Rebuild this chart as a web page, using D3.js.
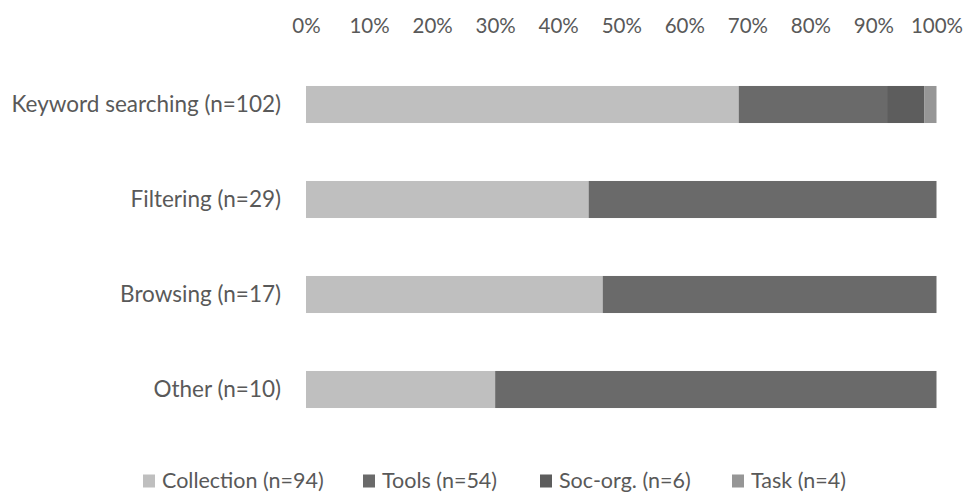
<!DOCTYPE html>
<html><head><meta charset="utf-8">
<script src="https://cdn.jsdelivr.net/npm/d3@7"></script>
<style>
html,body{margin:0;padding:0;background:#fff;}
svg text{font-family:"Lato","Open Sans",sans-serif;fill:#595959;}
</style></head>
<body>
<svg id="chart" width="967" height="493"></svg>
<script>
const categories = ["Keyword searching (n=102)", "Filtering (n=29)", "Browsing (n=17)", "Other (n=10)"];
const collection = [70, 13, 8, 3];
const tools = [24, 16, 9, 7];
const socOrg = [6, 0, 0, 0];
const task = [2, 0, 0, 0];
const seriesKeys = ["Collection", "Tools", "Soc-org.", "Task"];
const legendLabels = ["Collection (n=94)", "Tools (n=54)", "Soc-org. (n=6)", "Task (n=4)"];
const tickValues = [0, 0.1, 0.2, 0.3, 0.4, 0.5, 0.6, 0.7, 0.8, 0.9, 1];

const colors = ["#bfbfbf", "#6a6a6a", "#5d5d5d", "#969696"];
const seriesArrays = [collection, tools, socOrg, task];

const rows = categories.map((c, i) => {
  const r = {category: c};
  seriesKeys.forEach((k, j) => r[k] = seriesArrays[j][i]);
  return r;
});

const stack = d3.stack().keys(seriesKeys).offset(d3.stackOffsetExpand);
const stacked = stack(rows);

const svg = d3.select("#chart");
const x = d3.scaleLinear().domain([0, 1]).range([306, 936.5]);
const y = d3.scaleBand().domain(categories).range([57, 437]).paddingInner(0.61).paddingOuter(0.305);
const color = d3.scaleOrdinal().domain(seriesKeys).range(colors);

// bars
svg.append("g").selectAll("g").data(stacked).join("g")
  .attr("fill", d => color(d.key))
  .selectAll("rect").data(d => d).join("rect")
  .attr("x", d => x(d[0]))
  .attr("y", d => y(d.data.category))
  .attr("width", d => Math.max(0, x(d[1]) - x(d[0])))
  .attr("height", y.bandwidth());

// top axis
const xAxis = d3.axisTop(x).tickValues(tickValues).tickFormat(d3.format(".0%")).tickSize(0).tickPadding(0);
const gx = svg.append("g").attr("transform", "translate(0,33)").call(xAxis);
gx.select(".domain").remove();
gx.selectAll("text").attr("font-size", 20.5).style("font-family", "Lato, 'Open Sans', sans-serif").attr("fill", "#595959");

// left axis
const yAxis = d3.axisLeft(y).tickSize(0).tickPadding(0);
const gy = svg.append("g").attr("transform", "translate(281,0)").call(yAxis);
gy.select(".domain").remove();
gy.selectAll("text").attr("font-size", 22.5).style("font-family", "Lato, 'Open Sans', sans-serif").attr("fill", "#595959").attr("dy", "0.35em");

// legend
const legend = svg.append("g");
const legendX = [143, 363, 540, 732];
const ly = 480;
legendLabels.forEach((lab, i) => {
  legend.append("rect").attr("x", legendX[i]).attr("y", ly - 5.5).attr("width", 12).attr("height", 13).attr("fill", colors[i]);
  legend.append("text").attr("x", legendX[i] + 19).attr("y", ly).attr("dy", "0.35em")
    .attr("font-size", 21.5).text(lab);
});
</script>
</body></html>
